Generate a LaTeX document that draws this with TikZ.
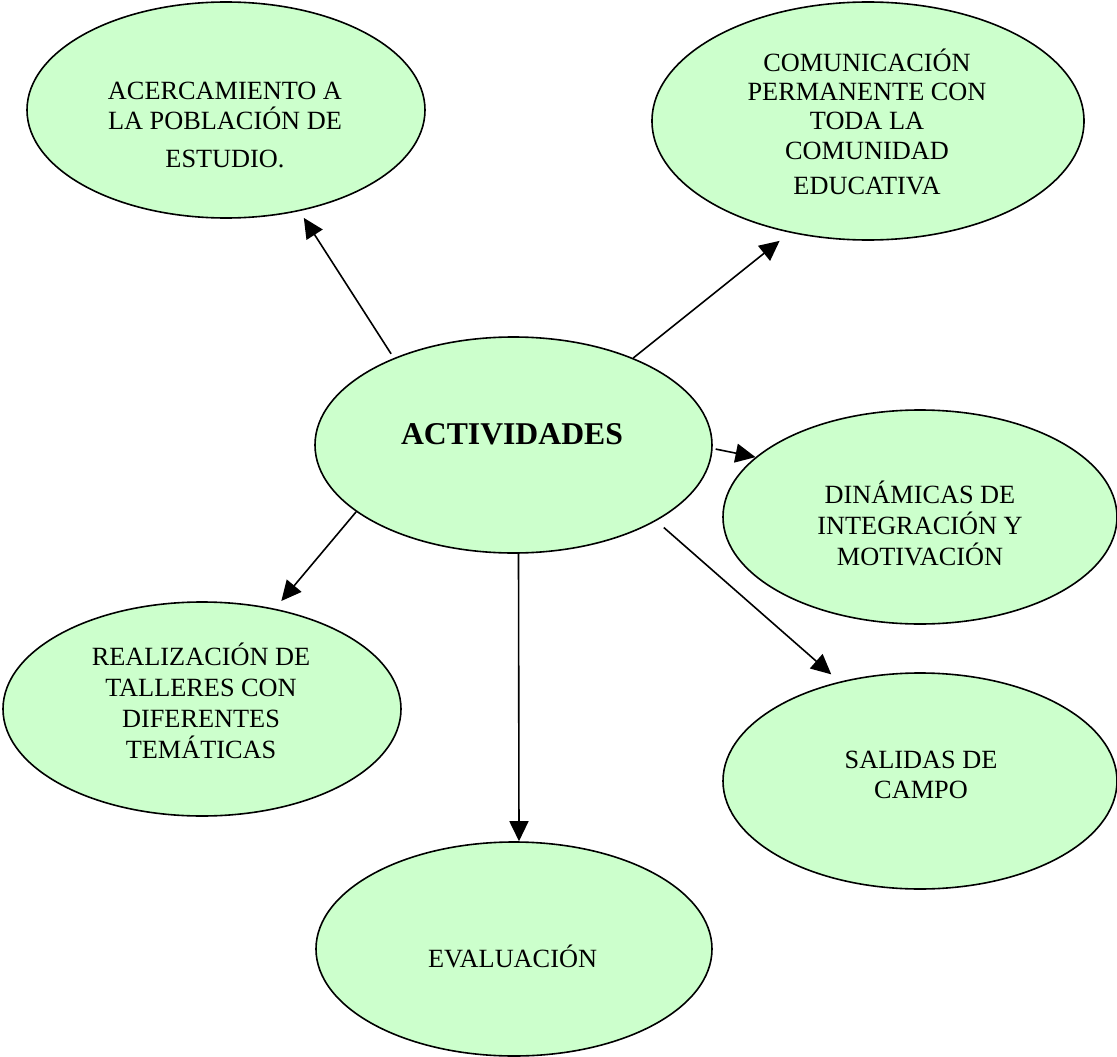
\documentclass[tikz,border=0pt]{standalone}
\usepackage{fontspec}
\setmainfont{Liberation Serif}
\usetikzlibrary{shapes.geometric,arrows.meta}
\definecolor{bubble}{RGB}{204,255,204}
\begin{document}
\begin{tikzpicture}[x=1pt,y=-1pt,
  bub/.style={ellipse,draw=black,line width=1.6pt,fill=bubble,inner sep=0pt},
  txt/.style={align=center,anchor=base,inner sep=0pt},
  lsk/.style={font=\fontsize{26.3}{#1}\selectfont},
  conn/.style={line width=1.6pt,-{Triangle[length=20pt,width=19pt]}}]
\useasboundingbox (0,0) rectangle (1117,1057);
% ellipses
\node[bub,minimum width=398pt,minimum height=216pt] (acer) at (226,110) {};
\node[bub,minimum width=432pt,minimum height=238pt] (comm) at (868,121) {};
\node[bub,minimum width=397pt,minimum height=216pt] (act) at (513.5,445) {};
\node[bub,minimum width=394pt,minimum height=214pt] (dina) at (920,517) {};
\node[bub,minimum width=398pt,minimum height=214pt] (real) at (202,709) {};
\node[bub,minimum width=394pt,minimum height=216pt] (sal) at (920,781) {};
\node[bub,minimum width=396pt,minimum height=214pt] (eval) at (514,949) {};
% texts (anchored at baseline of last line)
\node[txt,lsk=30] (acer-t) at (225,167) {ACERCAMIENTO A\\LA POBLACIÓN DE\\[8pt]ESTUDIO.};
\node[txt,lsk=29.3] (comm-t) at (867,194) {COMUNICACIÓN\\PERMANENTE CON\\TODA LA\\COMUNIDAD\\[5.7pt]EDUCATIVA};
\node[txt,font=\bfseries\fontsize{31.7}{36}\selectfont] (act-t) at (512,444) {ACTIVIDADES};
\node[txt,lsk=31] (dina-t) at (920,565) {DINÁMICAS DE\\INTEGRACIÓN Y\\MOTIVACIÓN};
\node[txt,lsk=31] (real-t) at (201,758) {REALIZACIÓN DE\\TALLERES CON\\DIFERENTES\\TEMÁTICAS};
\node[txt,lsk=30] (sal-t) at (921,798) {SALIDAS DE\\CAMPO};
\node[txt,lsk=30] (eval-t) at (512.5,967) {EVALUACIÓN};
% connectors
\draw[conn,shorten <=5pt,shorten >=8pt] (act.144) -- (acer.-54.5);
\draw[conn,shorten >=13pt] (act.36) -- (comm.-125);
\draw[conn,shorten <=3pt] (act.-1) -- (dina.160);
\draw[conn,shorten >=10pt] (act.-157.5) -- (real.54);
\draw[conn] ([xshift=5pt]act.south) -- ([xshift=5pt]eval.north);
\draw[conn,shorten <=10pt,shorten >=11pt] (act.-28.4) -- (sal.129.4);
\end{tikzpicture}
\end{document}
